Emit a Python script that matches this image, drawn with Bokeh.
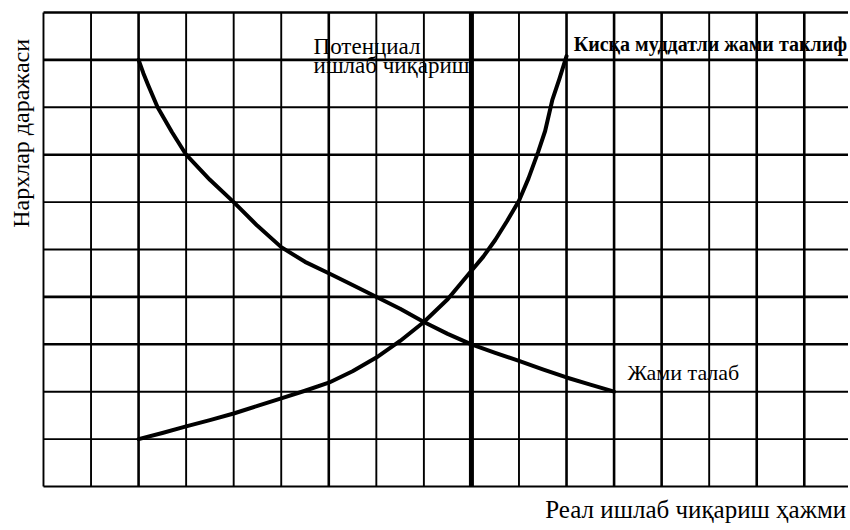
from bokeh.plotting import figure
from bokeh.models import Label, Range1d
from bokeh.embed import file_html
from bokeh.resources import INLINE

# ---- data ----
grid_x = list(range(0, 18))          # vertical grid positions
grid_y = list(range(0, 11))          # horizontal grid positions
potential_output = 9                 # potential output level

ad_x = [2.0, 2.1, 2.2, 2.4, 2.7, 3.0, 3.5, 4.0, 4.5, 5.0, 5.5, 6.0, 6.5, 6.9,
        7.5, 8.0, 8.5, 9.0, 9.5, 10.0, 10.5, 11.0, 11.5, 12.0]
ad_y = [9.0, 8.72, 8.47, 8.0, 7.48, 7.0, 6.47, 6.0, 5.5, 5.05, 4.74, 4.5, 4.25, 4.05,
        3.75, 3.47, 3.22, 3.0, 2.82, 2.65, 2.47, 2.3, 2.15, 2.0]

as_x = [2, 2.5, 3, 3.5, 4, 4.5, 5, 5.5, 6, 6.5, 7, 7.5, 8, 8.5, 9, 9.25, 9.5,
        9.75, 10, 10.2, 10.4, 10.55, 10.7, 10.85, 11]
as_y = [1.0, 1.13, 1.27, 1.4, 1.54, 1.7, 1.86, 2.02, 2.19, 2.43, 2.72, 3.07, 3.47,
        3.95, 4.55, 4.85, 5.2, 5.6, 6.03, 6.5, 7.05, 7.5, 8.15, 8.6, 9.08]

txt_sras = "Кисқа муддатли жами таклиф"
txt_pot1 = "Потенциал"
txt_pot2 = "ишлаб чиқариш"
txt_ad = "Жами талаб"
txt_xlabel = "Реал ишлаб чиқариш ҳажми"
txt_ylabel = "Нархлар даражаси"

# ---- figure ----
W, H = 848, 528
p = figure(width=W, height=H, output_backend="svg", toolbar_location=None,
           x_range=Range1d(-0.904, 16.93), y_range=Range1d(-0.886, 10.253),
           min_border=0, min_border_left=0, min_border_right=0,
           min_border_top=0, min_border_bottom=0)
p.axis.visible = False
p.grid.visible = False
p.outline_line_color = None
p.background_fill_color = "white"
p.border_fill_color = "white"

thick_x = {2, 6, 11, 12, 13, 15, 16}
thick_y = {9, 7, 4, 3, 10}

xmax = grid_x[-1]
ymax = grid_y[-1]
for gx in grid_x:
    if gx == potential_output:
        continue
    p.segment(x0=[gx], y0=[0], x1=[gx], y1=[ymax], line_color="black",
              line_width=2.6 if gx in thick_x else 1.9)
for gy in grid_y:
    p.segment(x0=[0], y0=[gy], x1=[xmax], y1=[gy], line_color="black",
              line_width=2.6 if gy in thick_y else 1.9)

p.segment(x0=[potential_output], y0=[0], x1=[potential_output], y1=[ymax],
          line_color="black", line_width=5)

p.line(ad_x, ad_y, line_color="black", line_width=4, line_join="round", line_cap="round")
p.line(as_x, as_y, line_color="black", line_width=4, line_join="round", line_cap="round")

FONT = "Liberation Serif"
def lab(x, y, t, size, align="left", angle=0, bold=False):
    p.add_layout(Label(x=x, y=y, text=t, text_font=FONT, text_font_size=size,
                       text_align=align, text_baseline="alphabetic", angle=angle,
                       text_color="black",
                       text_font_style="bold" if bold else "normal"))

lab(11.15, 9.33, txt_sras, "20px", bold=True)
lab(5.68, 9.28, txt_pot1, "23px")
lab(5.68, 8.88, txt_pot2, "23px")
lab(12.28, 2.4, txt_ad, "22px")
lab(16.88, -0.49, txt_xlabel, "25px", align="right")
lab(-0.47, 7.45, txt_ylabel, "24px", align="center", angle=1.5707963)

open("out.html", "w").write(file_html(p, INLINE))
